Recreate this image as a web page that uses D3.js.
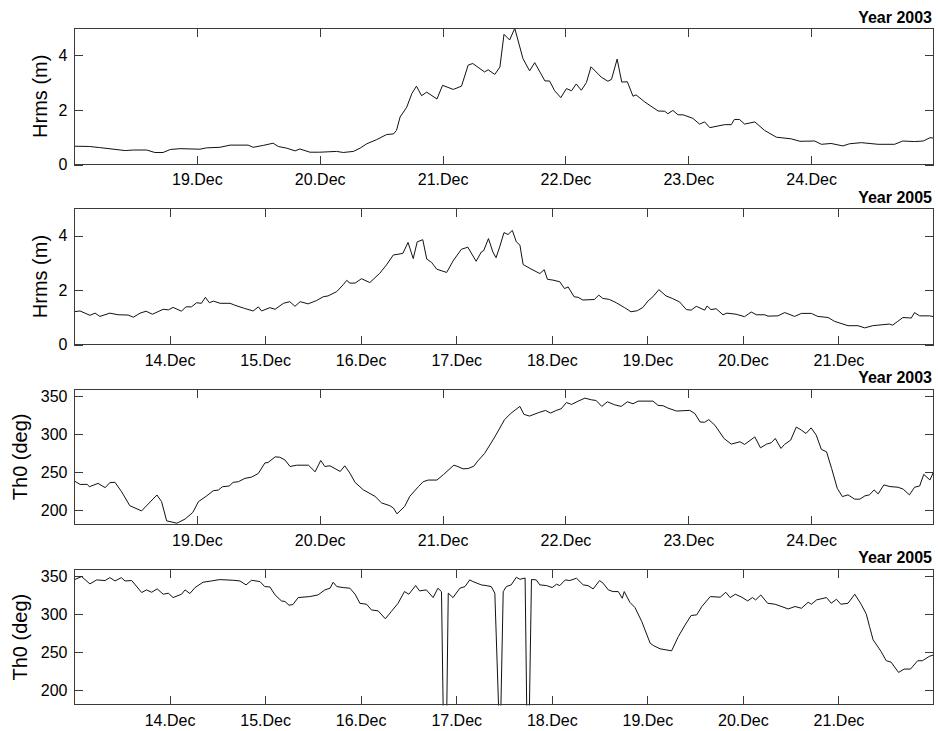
<!DOCTYPE html>
<html>
<head>
<meta charset="utf-8">
<script src="https://cdn.jsdelivr.net/npm/d3@7"></script>
<style>
  body { margin: 0; background: #fff; }
  svg { display: block; }
  .tick text { font-family: "Liberation Sans", Arial, sans-serif; }
</style>
</head>
<body>
<svg id="chart" width="938" height="731"></svg>
<script>
// Hourly wave records, stored as [hours since window start, value].

// Dec 2003, window starts 18 Dec 00:00, significant height Hrms (m)
const hrms2003 = [
  [0,0.67],[3,0.66],[5,0.62],[10,0.51],[11.6,0.53],[14.2,0.53],[15.8,0.44],[17.4,0.44],
  [18.8,0.55],[20.7,0.58],[24.6,0.56],[25.9,0.61],[28.5,0.63],[30.5,0.71],[34,0.71],[35,0.63],
  [37,0.7],[38.9,0.78],[39.9,0.66],[41.5,0.6],[43.2,0.5],[44.1,0.57],[46.1,0.45],[48,0.45],
  [51.3,0.48],[52.6,0.44],[54.6,0.48],[55.9,0.6],[57.2,0.76],[59.1,0.91],[61.1,1.1],[62.4,1.12],
  [63,1.25],[63.7,1.74],[65,2.1],[66,2.6],[66.9,2.87],[67.9,2.52],[68.9,2.65],[70.9,2.4],
  [72,2.9],[74.1,2.75],[75.7,2.87],[77,3.64],[77.9,3.7],[80.2,3.39],[80.9,3.47],[82.2,3.3],
  [83.2,3.57],[84,4.77],[85.1,4.56],[86.1,4.99],[87.7,3.88],[89,3.43],[90,3.73],[92,3.06],
  [92.9,3.06],[93.9,2.7],[95.1,2.45],[96.2,2.78],[97.2,2.7],[98.1,2.95],[99.1,2.72],[100.1,3.0],
  [101,3.58],[103,3.2],[104.3,3.05],[105,3.12],[106.1,3.86],[107,3.02],[108.1,3.03],[109.2,2.5],
  [109.8,2.55],[111.5,2.29],[114.1,1.96],[115.4,1.95],[116,1.86],[117,1.98],[118,1.82],[119,1.82],
  [120.9,1.69],[122.2,1.48],[123.2,1.56],[124.2,1.35],[127.1,1.46],[128.4,1.46],[129,1.65],[130,1.65],
  [131,1.48],[133,1.56],[134.9,1.25],[137.2,1.0],[140.1,0.94],[141.8,0.85],[144.7,0.86],[146,0.74],
  [147.9,0.77],[150.2,0.68],[151.5,0.76],[153.8,0.8],[157.1,0.74],[160.3,0.74],[161.9,0.86],[164.2,0.84],
  [165.9,0.86],[167.2,0.98],[168,0.97]
];

// Dec 2005, window starts 13 Dec 00:00, Hrms (m)
const hrms2005 = [
  [0,1.21],[1.5,1.24],[4,1.08],[5.3,1.16],[6.5,1.04],[9,1.16],[11.1,1.1],[13.6,1.09],
  [14.9,1.01],[16.6,1.16],[18.1,1.23],[19.7,1.12],[22.4,1.3],[23.7,1.28],[24.9,1.37],[27,1.23],
  [28.1,1.39],[29.5,1.39],[30.8,1.54],[32,1.52],[33,1.74],[34,1.54],[35,1.6],[36.7,1.52],
  [39.2,1.52],[40.4,1.45],[42.9,1.33],[45,1.24],[46.3,1.39],[47.1,1.24],[49.2,1.36],[50.5,1.3],
  [52.6,1.52],[54.2,1.58],[55.5,1.41],[56.8,1.58],[58.8,1.5],[60.9,1.62],[62.6,1.76],[63.8,1.79],
  [66,1.95],[67.6,2.2],[68.5,2.36],[69.3,2.26],[70.6,2.26],[72.2,2.42],[74.3,2.28],[76.8,2.62],
  [78.5,2.93],[80.2,3.29],[81.9,3.33],[82.6,3.35],[83.9,3.75],[85.2,3.16],[86.2,3.77],[87.6,3.85],
  [88.6,3.14],[89.8,3.02],[91.1,2.77],[93.6,2.65],[95.2,3.07],[97.3,3.5],[98.4,3.55],[98.9,3.58],
  [101,3.06],[102.3,3.4],[102.9,3.45],[104.1,3.89],[105.2,3.4],[106,3.19],[106.9,3.58],[108,4.11],
  [109,4.04],[110.1,4.19],[111.1,3.77],[112,3.65],[112.8,2.94],[114.5,2.8],[117,2.61],[118.1,2.75],
  [118.9,2.4],[120.3,2.37],[122,2.31],[123.2,2.06],[124.1,2.12],[125.6,1.76],[126.6,1.74],[127.8,1.64],
  [130.7,1.66],[131.8,1.82],[132.8,1.7],[134.5,1.66],[136.2,1.54],[138.3,1.36],[139.9,1.21],[141.5,1.25],
  [142.9,1.37],[144.2,1.61],[145.4,1.76],[146.9,2.02],[148.7,1.79],[150.4,1.69],[152.1,1.57],[153.8,1.29],
  [155,1.27],[156.3,1.41],[158.4,1.27],[159,1.42],[160,1.29],[161.3,1.32],[163,1.1],[164,1.16],
  [166.3,1.12],[168.4,1.03],[170.1,1.2],[171.4,1.1],[173.5,1.1],[174.3,1.05],[176.8,1.06],[178.5,1.18],
  [181,1.04],[182.7,1.15],[185.2,1.15],[186.8,1.04],[189.4,1.0],[191,0.86],[194.4,0.7],[196.9,0.7],
  [198.6,0.62],[200.6,0.7],[202.7,0.73],[204.8,0.76],[205.6,0.72],[206.9,0.86],[208.2,1.0],[210.3,0.98],
  [211.1,1.18],[212.4,1.06],[214.9,1.06],[216,1.03]
];

// Dec 2003, mean wave direction Th0 (deg)
const th2003 = [
  [0,238.5],[1.2,233.6],[2.6,233.7],[3,230.6],[4.7,235],[6.1,229.4],[7,236],[8,236.4],
  [9.3,224],[10.9,205.6],[13.2,198.7],[16.2,219.7],[17.1,211],[18.1,185.6],[20.1,182.5],[21.7,188],
  [23.2,196.6],[24.3,210.9],[25.9,218.4],[27.2,225.3],[28.2,226.2],[29,230.6],[30.3,231.5],[31.1,236.4],
  [32.1,237.2],[33.4,241.6],[34.7,243.3],[36,248.1],[37.3,262],[37.9,262.5],[39.3,270],[40.2,269.5],
  [41.2,266],[42.2,257.3],[43.5,259],[45.8,259],[47.1,250.3],[48.2,265.2],[49,257.3],[50,258.2],
  [52,250.7],[52.9,258.2],[53.9,248.5],[54.9,236.3],[56.5,226.6],[58.8,217.9],[60.1,209.2],[61.7,205.6],
  [62.4,202.5],[63.1,194.8],[64.6,204.7],[65.6,217.9],[67.3,230.9],[68.2,237.2],[69.2,239.4],[70.9,239.4],
  [72.2,246.8],[74.2,259],[74.8,257.7],[76,254.2],[77,254.6],[78.1,257.7],[78.9,264.7],[80.2,274.4],
  [82.2,296.2],[84.1,319],[85.4,327.7],[87.1,336.5],[87.9,326],[89,323.8],[90.7,328.2],[92.1,331.2],
  [93.1,327.7],[94.2,331.2],[95.2,333.5],[96.2,341.7],[97.2,339.1],[98.5,343.5],[99.8,347.4],[101.1,345.2],
  [102,344.3],[103.1,336.5],[104.2,342.6],[105.6,338.7],[106.9,336.5],[108.1,342.6],[109.2,340],[110.2,343.5],
  [113.1,343.5],[114.1,337.8],[115.1,337.4],[116,334.4],[117.7,330.4],[120.3,331.3],[121.3,327],[122.3,316],
  [123.2,315.6],[124,319.1],[125.2,311.7],[127,294.1],[128.4,286.8],[130.1,289.9],[131,286.4],[133,296.3],
  [134.1,281.9],[135.3,286.8],[136.2,288.6],[137,294.2],[138.1,281.1],[138.8,286.4],[140,292],[141.1,309.3],
  [142.1,305.2],[143,300.8],[144,308.2],[145,298.6],[146,279.8],[147,276.7],[148,254.7],[149.1,228.5],
  [150.1,217.6],[151.2,219.9],[152.5,214.2],[153.5,214.2],[154.5,218.5],[155.4,219.9],[156.3,226.4],[157.1,221.2],
  [158.2,233],[159.4,230.8],[161,229.9],[162,227.3],[163.2,219.9],[164.2,229.9],[165.2,231.6],[166,246.9],
  [167.2,239.5],[168,251.3]
];

// Dec 2005, Th0 (deg); the three drops are direction readings that wrap past north
const th2005 = [
  [0,345.5],[1.9,349.9],[4,340.2],[5.7,345.5],[7.8,344.6],[9,348.5],[10.3,344.1],[11.9,348.5],
  [12.8,344.1],[14.5,344.6],[17,328.8],[18.2,332.3],[19.5,329.2],[20.9,333.6],[22.4,326.6],[23.7,327.9],
  [24.9,322.2],[27,326.6],[27.9,332.3],[29.1,327.5],[30.4,335.4],[32.4,342.4],[34.5,344.1],[36.6,345.9],
  [40,345],[41.7,344.1],[43.2,338.9],[44.6,345],[46.7,343.3],[47.9,336.7],[49.2,336.2],[50.5,325.7],
  [52.1,317.8],[53,317],[54,312.1],[55,313],[56.3,322.2],[59.2,323.5],[61.3,325.7],[63,332.3],
  [64.3,334.5],[65.1,342.4],[66,336.7],[67.6,335.4],[69.3,334.5],[70.6,326.6],[71.8,314.7],[73.5,313.4],
  [74.7,305.9],[76.4,304.6],[78.2,294.2],[79.7,303.8],[81.4,314.7],[83,330.1],[84.1,326.6],[85.8,338],
  [86.8,331],[88.5,332.3],[90.2,322.2],[91.4,334.5],[92.3,330],[93.2,0],[94,328],[95.2,322.2],
  [96.9,334.5],[98.2,336.7],[99.4,345.5],[100.2,343.3],[102.3,338.9],[103.5,338],[104.8,336.7],[105.7,328],
  [107,120],[107.8,330],[108.6,336.7],[109.8,338.9],[111.1,349],[112,346.3],[113.3,348],[114,52],
  [114.9,346],[116.1,345.5],[117,338.9],[118.7,338],[120.1,335.4],[121.2,339.8],[122,338],[123.4,345.5],
  [124.5,344.6],[126.2,347.7],[127.9,338.9],[129.1,338],[130.4,333.6],[132,344.6],[132.9,341.1],[134.2,332.3],
  [135.4,330.1],[136.7,330.1],[137.7,321.3],[138.2,330.1],[139.6,316],[140.9,309],[142.6,290.6],[144.7,262.1],
  [145.5,259],[147.2,254.6],[150.1,252],[151.8,270.9],[153.5,286.2],[155,298.5],[156.4,299.4],[157.7,310.4],
  [159.8,323.5],[162.3,322.7],[163.7,329.2],[164.8,322.2],[166.1,326.6],[167.7,322.7],[169.2,317.8],[170.4,322.2],
  [171.2,319.1],[172.5,325.7],[174.2,314.7],[176.1,313.4],[179.4,307.2],[181.1,310.4],[182.7,308.1],[184.4,316],
  [185.2,313.4],[186.5,319.1],[189,322.2],[190.2,314.7],[191.5,320],[192.6,313.4],[194.4,314.7],[196.1,326.6],
  [197.7,313.4],[199,300.3],[199.8,284.1],[200.7,266.5],[202.7,251.2],[204,238.9],[205.2,237.1],[207.1,223.5],
  [208.5,227.9],[210.1,227.9],[211.9,238.9],[213.1,238.9],[214.8,244.6],[216,246.8]
];

// Day-of-month tick marks for each record window
const tickDays2003 = [19, 20, 21, 22, 23, 24];
const tickDays2005 = [14, 15, 16, 17, 18, 19, 20, 21];
// Value tick marks
const hrmsTicks = [0, 2, 4];
const thTicks = [200, 250, 300, 350];

const panels = [
  { data: hrms2003, year: 2003, firstDay: 18, days: 7, tickDays: tickDays2003,
    yDomain: [0, 5], yTicks: hrmsTicks, yLabel: "Hrms (m)", title: "Year 2003" },
  { data: hrms2005, year: 2005, firstDay: 13, days: 9, tickDays: tickDays2005,
    yDomain: [0, 5], yTicks: hrmsTicks, yLabel: "Hrms (m)", title: "Year 2005" },
  { data: th2003, year: 2003, firstDay: 18, days: 7, tickDays: tickDays2003,
    yDomain: [180, 360], yTicks: thTicks, yLabel: "Th0 (deg)", title: "Year 2003" },
  { data: th2005, year: 2005, firstDay: 13, days: 9, tickDays: tickDays2005,
    yDomain: [180, 360], yTicks: thTicks, yLabel: "Th0 (deg)", title: "Year 2005" }
];

const svg = d3.select("#chart");
const left = 74, width = 860, height = 136.5, firstTop = 28, step = 180.3;
const tick = 9;
const frameColor = "#3a3a3a";
const font = '"Liberation Sans", Arial, Helvetica, sans-serif';
const fmt = d3.utcFormat("%d.%b");
const HOUR = 3600 * 1000;

panels.forEach((p, i) => {
  const top = firstTop + i * step;
  const g = svg.append("g").attr("transform", `translate(${left},${top})`);

  const t0 = Date.UTC(p.year, 11, p.firstDay);
  const x = d3.scaleUtc()
    .domain([new Date(t0), new Date(t0 + p.days * 24 * HOUR)])
    .range([0, width]);
  const y = d3.scaleLinear().domain(p.yDomain).range([height, 0]);

  const tickDates = p.tickDays.map(d => new Date(Date.UTC(p.year, 11, d)));

  const clipId = "clip" + i;
  g.append("clipPath").attr("id", clipId)
    .append("rect").attr("x", 0).attr("y", 0).attr("width", width).attr("height", height);

  // bottom axis with labels, ticks pointing inward
  const bottom = g.append("g").attr("transform", `translate(0,${height})`)
    .call(d3.axisBottom(x).tickValues(tickDates).tickFormat(fmt)
      .tickSizeInner(-tick).tickSizeOuter(0).tickPadding(9.5));
  // top axis, ticks only
  const topAxis = g.append("g")
    .call(d3.axisTop(x).tickValues(tickDates).tickFormat("")
      .tickSizeInner(-tick).tickSizeOuter(0));
  // left axis with labels
  const leftAxis = g.append("g")
    .call(d3.axisLeft(y).tickValues(p.yTicks).tickFormat(d3.format("d"))
      .tickSizeInner(-tick).tickSizeOuter(0).tickPadding(6.5));
  // right axis, ticks only
  const rightAxis = g.append("g").attr("transform", `translate(${width},0)`)
    .call(d3.axisRight(y).tickValues(p.yTicks).tickFormat("")
      .tickSizeInner(-tick).tickSizeOuter(0));

  [bottom, topAxis, leftAxis, rightAxis].forEach(a => {
    a.select(".domain").remove();
    a.selectAll(".tick line").attr("stroke", frameColor).attr("shape-rendering", "crispEdges");
    a.selectAll(".tick text").attr("fill", "#000").style("font-family", font).style("font-size", "16px");
  });

  // data line
  const line = d3.line()
    .x(d => x(new Date(t0 + d[0] * HOUR)))
    .y(d => y(d[1]));
  g.append("path")
    .datum(p.data)
    .attr("clip-path", `url(#${clipId})`)
    .attr("fill", "none")
    .attr("stroke", "#111")
    .attr("stroke-width", 1)
    .attr("stroke-linejoin", "round")
    .attr("d", line);

  // frame
  g.append("rect")
    .attr("x", 0.5).attr("y", 0.5)
    .attr("width", width - 1).attr("height", height - 1)
    .attr("fill", "none").attr("stroke", frameColor)
    .attr("shape-rendering", "crispEdges");

  // panel title
  g.append("text")
    .attr("x", width - 2).attr("y", -5.5)
    .attr("text-anchor", "end")
    .style("font-family", font).style("font-size", "16px").style("font-weight", "bold")
    .text(p.title);

  // y label
  const labelX = p.yDomain[1] > 100 ? 27 - left : 46.5 - left;
  g.append("text")
    .attr("transform", `translate(${labelX},${height / 2}) rotate(-90)`)
    .attr("text-anchor", "middle")
    .style("font-family", font).style("font-size", "20px")
    .text(p.yLabel);
});
</script>
</body>
</html>
